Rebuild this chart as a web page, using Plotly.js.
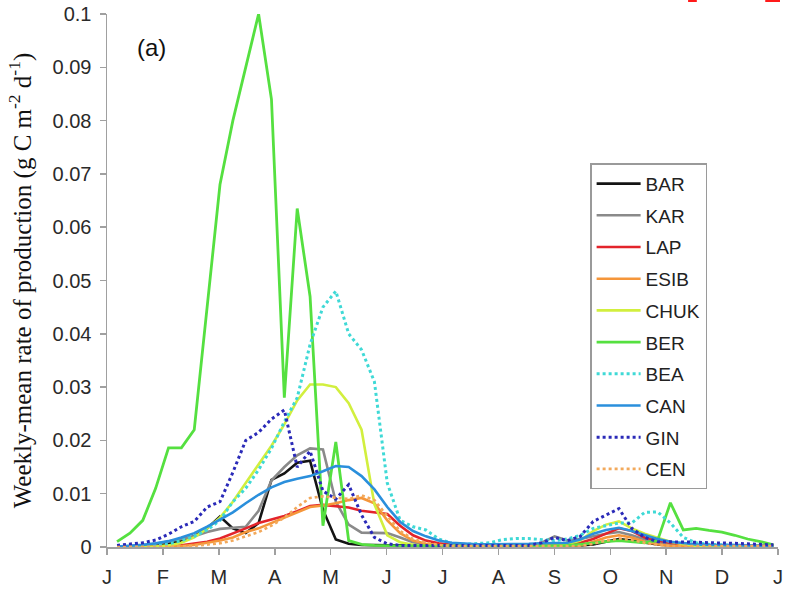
<!DOCTYPE html>
<html>
<head>
<meta charset="utf-8">
<script src="https://cdn.plot.ly/plotly-3.0.1.min.js"></script>
<style>
  html, body { margin: 0; padding: 0; background: #fff; }
  #chart { width: 788px; height: 590px; }
</style>
</head>
<body>
<div id="chart"></div>
<script>
// Week index of each weekly-mean value (1..52)
const weeks = [1,2,3,4,5,6,7,8,9,10,11,12,13,14,15,16,17,18,19,20,21,22,23,24,25,26,
               27,28,29,30,31,32,33,34,35,36,37,38,39,40,41,42,43,44,45,46,47,48,49,50,51,52];

const monthLabels = ["J","F","M","A","M","J","J","A","S","O","N","D","J"];
const yTickVals = [0,0.01,0.02,0.03,0.04,0.05,0.06,0.07,0.08,0.09,0.1];
const yTickText = ["0","0.01","0.02","0.03","0.04","0.05","0.06","0.07","0.08","0.09","0.1"];

const seriesNames = ["BAR","KAR","LAP","ESIB","CHUK","BER","BEA","CAN","GIN","CEN"];

const BAR = [0,0,0.0001,0.0003,0.0006,0.0012,0.002,0.0035,0.0057,0.0035,0.0026,0.0045,0.0126,
  0.0138,0.0158,0.0162,0.007,0.0014,0.0006,0.0004,0.0003,0.0003,0.0003,0.0003,0.0003,0.0003,
  0.0003,0.0003,0.0003,0.0003,0.0003,0.0003,0.0003,0.0003,0.0003,0.0003,0.0003,0.0005,0.001,
  0.0015,0.0012,0.0008,0.0005,0.0003,0.0003,0.0003,0.0003,0.0003,0.0003,0.0003,0.0003,0.0003];

const KAR = [0,0.0001,0.0003,0.0006,0.001,0.0015,0.002,0.0028,0.0034,0.0036,0.0038,0.0068,0.0125,
  0.015,0.0172,0.0185,0.0183,0.0085,0.0042,0.0027,0.0026,0.0026,0.0018,0.0009,0.0005,0.0003,
  0.0003,0.0003,0.0003,0.0003,0.0003,0.0003,0.0003,0.0008,0.002,0.0012,0.0015,0.002,0.0025,
  0.0028,0.0022,0.0014,0.0008,0.0005,0.0003,0.0003,0.0003,0.0003,0.0003,0.0003,0.0003,0.0003];

const LAP = [0,0,0,0,0.0001,0.0003,0.0006,0.001,0.0016,0.0025,0.0035,0.0045,0.0052,
  0.0058,0.0067,0.0077,0.0079,0.0077,0.0074,0.0068,0.0065,0.0062,0.004,0.0022,0.0012,0.0007,
  0.0004,0.0003,0.0003,0.0003,0.0003,0.0003,0.0003,0.0003,0.0003,0.0003,0.0008,0.0015,0.0025,
  0.0035,0.003,0.0018,0.0012,0.0008,0.0004,0.0002,0.0002,0.0002,0.0002,0.0002,0.0002,0.0002];

const ESIB = [0,0,0,0,0.0001,0.0002,0.0004,0.0008,0.0012,0.0018,0.0028,0.0035,0.0045,
  0.0055,0.0066,0.0075,0.0078,0.0082,0.0088,0.0092,0.0082,0.005,0.0026,0.0012,0.0006,0.0003,
  0.0003,0.0003,0.0003,0.0003,0.0003,0.0003,0.0003,0.0003,0.0003,0.0003,0.0003,0.001,0.0018,
  0.0022,0.0018,0.001,0.0005,0.0002,0.0002,0.0002,0.0002,0.0002,0.0002,0.0002,0.0002,0.0002];

const CHUK = [0,0,0,0.0001,0.0003,0.0008,0.0018,0.0035,0.0055,0.0085,0.012,0.0155,0.019,
  0.023,0.0275,0.0305,0.0305,0.030,0.027,0.022,0.008,0.0022,0.0009,0.0004,0.0002,0.0002,
  0.0002,0.0002,0.0002,0.0002,0.0002,0.0002,0.0002,0.0002,0.0002,0.0005,0.0012,0.003,0.0042,
  0.0048,0.0035,0.0025,0.0018,0.001,0.0005,0.0002,0.0002,0.0002,0.0002,0.0002,0.0002,0.0002];

const BER = [0.001,0.0026,0.005,0.011,0.0186,0.0186,0.022,0.045,0.068,0.08,0.09,0.1,0.084,
  0.028,0.0635,0.047,0.004,0.0197,0.0012,0.0005,0.0003,0.0002,0.0002,0.0002,0.0002,0.0002,
  0.0002,0.0002,0.0002,0.0002,0.0002,0.0002,0.0002,0.0002,0.0002,0.0003,0.0005,0.0008,0.001,
  0.0012,0.001,0.0008,0.0012,0.0083,0.0032,0.0035,0.0031,0.0028,0.0022,0.0015,0.001,0.0004];

const BEA = [0,0,0.0001,0.0003,0.0006,0.0012,0.002,0.0032,0.005,0.0085,0.011,0.0145,0.0185,
  0.0235,0.028,0.038,0.045,0.048,0.040,0.037,0.031,0.012,0.005,0.0038,0.0032,0.0015,
  0.0007,0.0005,0.0006,0.0008,0.0014,0.0016,0.0016,0.0014,0.0012,0.0015,0.0022,0.0035,0.004,
  0.0045,0.0045,0.0065,0.0066,0.0045,0.0018,0.0008,0.0005,0.0004,0.0003,0.0002,0.0002,0.0001];

const CAN = [0.0001,0.0002,0.0004,0.0007,0.0011,0.0018,0.0026,0.0038,0.0052,0.0065,0.0082,0.0098,0.0112,
  0.0122,0.0128,0.0133,0.0142,0.0152,0.015,0.0133,0.0108,0.0075,0.0047,0.003,0.002,0.0012,
  0.0008,0.0006,0.0005,0.0005,0.0005,0.0005,0.0006,0.0007,0.0008,0.0008,0.0014,0.0025,0.0032,
  0.0036,0.003,0.0022,0.0015,0.001,0.0007,0.0005,0.0004,0.0004,0.0003,0.0003,0.0002,0.0002];

const GIN = [0.0003,0.0005,0.0008,0.0013,0.0024,0.0038,0.0048,0.0075,0.0085,0.014,0.020,0.0215,0.024,
  0.0257,0.015,0.018,0.0105,0.009,0.0117,0.006,0.0018,0.0006,0.0003,0.0003,0.0003,0.0003,
  0.0003,0.0003,0.0003,0.0003,0.0003,0.0003,0.0003,0.0008,0.0018,0.0012,0.002,0.0048,0.006,
  0.0072,0.0035,0.0018,0.001,0.001,0.0009,0.0009,0.0008,0.0008,0.0007,0.0006,0.0005,0.0004];

const CEN = [0,0,0,0,0,0.0001,0.0002,0.0004,0.0007,0.0012,0.002,0.0028,0.004,
  0.0055,0.0075,0.0092,0.0095,0.0092,0.009,0.0097,0.0088,0.0058,0.003,0.0015,0.0008,0.0004,
  0.0002,0.0002,0.0002,0.0002,0.0002,0.0002,0.0002,0.0002,0.0002,0.0002,0.0002,0.0006,0.0012,
  0.0016,0.0013,0.0008,0.0004,0.0002,0.0002,0.0002,0.0002,0.0002,0.0002,0.0002,0.0002,0.0002];

const seriesValues = [BAR, KAR, LAP, ESIB, CHUK, BER, BEA, CAN, GIN, CEN];

const styles = [
  {color: "#141414", dash: "solid", width: 2.6},
  {color: "#8a8a8a", dash: "solid", width: 2.6},
  {color: "#e3242b", dash: "solid", width: 2.6},
  {color: "#f5963a", dash: "solid", width: 2.6},
  {color: "#d2ef3e", dash: "solid", width: 2.6},
  {color: "#55e040", dash: "solid", width: 2.8},
  {color: "#3fd9d6", dash: "dot",   width: 3},
  {color: "#2a8fdc", dash: "solid", width: 2.6},
  {color: "#2a2ab8", dash: "dot",   width: 3},
  {color: "#f2a95c", dash: "dot",   width: 2.6}
];

const traces = seriesNames.map((name, k) => ({
  type: "scatter",
  mode: "lines",
  name: name,
  legendgroup: name,
  x: weeks,
  y: seriesValues[k],
  line: {color: styles[k].color, dash: styles[k].dash, width: styles[k].width}
}));

const xStart = 0.22, xEnd = 52.36;
const xTickVals = monthLabels.map((m, k) => xStart + k * (xEnd - xStart) / 12);

const layout = {
  width: 788, height: 590,
  margin: {l: 107, r: 10, t: 14, b: 43},
  paper_bgcolor: "#fff", plot_bgcolor: "#fff",
  showlegend: true,
  font: {family: "Liberation Sans, Arial, sans-serif", color: "#222"},
  xaxis: {
    range: [xStart, xEnd],
    tickmode: "array", tickvals: xTickVals, ticktext: monthLabels,
    showgrid: false, zeroline: false,
    showline: true, linecolor: "#a0a0a0", linewidth: 1.5,
    ticks: "outside", ticklen: 6, tickcolor: "#a0a0a0", tickwidth: 1.5,
    ticklabelstandoff: 5,
    tickfont: {size: 20, color: "#2a2a2a"}
  },
  yaxis: {
    range: [0, 0.1],
    tickmode: "array", tickvals: yTickVals, ticktext: yTickText,
    showgrid: false, zeroline: false,
    showline: true, linecolor: "#a0a0a0", linewidth: 1.5,
    ticks: "outside", ticklen: 6, tickcolor: "#a0a0a0", tickwidth: 1.5,
    ticklabelstandoff: 4,
    tickfont: {size: 20, color: "#2a2a2a"},
    title: {
      text: "Weekly-mean rate of production (g C m<sup>-2</sup> d<sup>-1</sup>)",
      font: {family: "Liberation Serif, Times New Roman, serif", size: 25, color: "#111"},
      standoff: 14
    }
  },
  legend: {
    x: 0.72, y: 0.72, xanchor: "left", yanchor: "top",
    bgcolor: "#fff", bordercolor: "#9a9a9a", borderwidth: 1.5,
    font: {size: 19, color: "#222"},
    itemwidth: 44,
    tracegroupgap: 4
  },
  shapes: [
    {type: "rect", xref: "paper", yref: "paper", x0: 0.866, x1: 0.879, y0: 1.0225, y1: 1.03,
     line: {width: 0}, fillcolor: "#ff1a1a"},
    {type: "rect", xref: "paper", yref: "paper", x0: 0.981, x1: 1.003, y0: 1.0225, y1: 1.03,
     line: {width: 0}, fillcolor: "#ff1a1a"}
  ],
  annotations: [
    {text: "(a)", xref: "paper", yref: "paper", x: 0.067, y: 0.938,
     xanchor: "center", yanchor: "middle",
     showarrow: false, font: {size: 24, color: "#111"}}
  ]
};

Plotly.newPlot("chart", traces, layout, {displayModeBar: false, staticPlot: true});
</script>
</body>
</html>
